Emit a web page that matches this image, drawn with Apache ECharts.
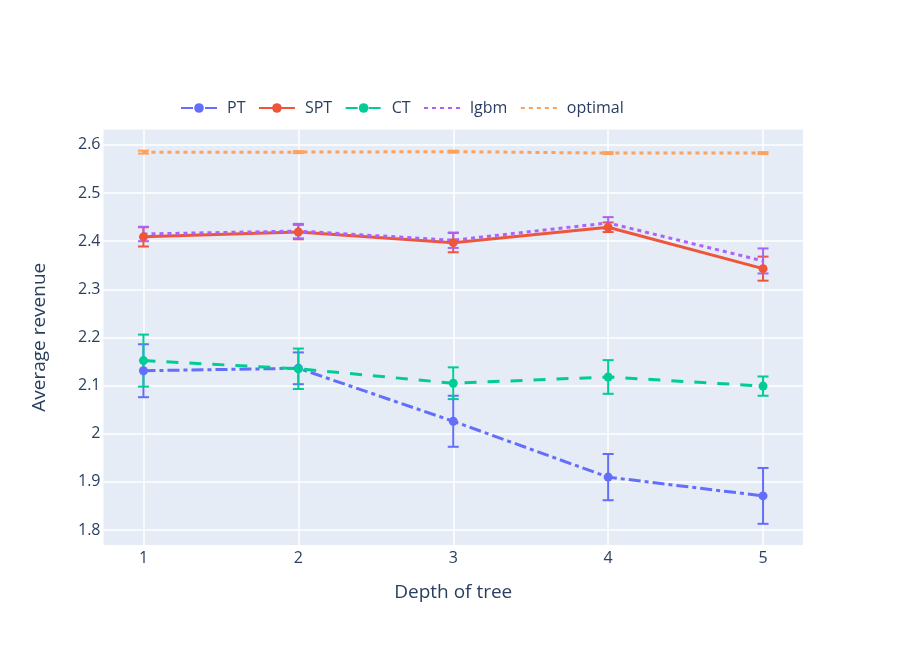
<!DOCTYPE html>
<html>
<head>
<meta charset="utf-8">
<script src="https://cdn.jsdelivr.net/npm/echarts@6/dist/echarts.min.js"></script>
<style>
  html, body { margin: 0; padding: 0; background: #fff; }
  #main { width: 913px; height: 655px; }
</style>
</head>
<body>
<div id="main"></div>
<script>
// depth of tree
var depths = [1, 2, 3, 4, 5];
var xTicks = [1, 2, 3, 4, 5];
var yTicks = [1.8, 1.9, 2.0, 2.1, 2.2, 2.3, 2.4, 2.5, 2.6];

// 平均收益 + 误差
var ptMean = [2.131, 2.136, 2.026, 1.910, 1.871];
var ptErr = [0.055, 0.033, 0.053, 0.048, 0.058];
var sptMean = [2.409, 2.419, 2.397, 2.429, 2.343];
var sptErr = [0.020, 0.015, 0.020, 0.010, 0.025];
var ctMean = [2.152, 2.135, 2.105, 2.118, 2.099];
var ctErr = [0.054, 0.042, 0.033, 0.035, 0.020];
var lgbmMean = [2.415, 2.421, 2.402, 2.438, 2.359];
var lgbmErr = [0.015, 0.015, 0.016, 0.012, 0.026];
var optMean = [2.585, 2.585, 2.586, 2.583, 2.583];
var optErr = [0.003, 0.002, 0.002, 0.002, 0.002];

var font = "'Open Sans', Verdana, sans-serif";
var textColor = "#2a3f5f";

function pairs(means) {
  return depths.map(function(d, i) { return [d, means[i]]; });
}
function errData(means, errs) {
  return depths.map(function(d, i) { return [d, means[i] - errs[i], means[i] + errs[i]]; });
}

// 误差棒
function errRender(params, api) {
  var x = api.value(0);
  var top = api.coord([x, api.value(2)]);
  var bot = api.coord([x, api.value(1)]);
  var w = 5.5;
  var style = { stroke: api.visual("color"), lineWidth: 2 };
  return {
    type: "group",
    children: [
      { type: "line", shape: { x1: top[0], y1: top[1], x2: bot[0], y2: bot[1] }, style: style },
      { type: "line", shape: { x1: top[0] - w, y1: top[1], x2: top[0] + w, y2: top[1] }, style: style },
      { type: "line", shape: { x1: bot[0] - w, y1: bot[1], x2: bot[0] + w, y2: bot[1] }, style: style }
    ]
  };
}

function errSeries(name, color, means, errs) {
  return {
    name: name + "_err",
    type: "custom",
    renderItem: errRender,
    itemStyle: { color: color },
    data: errData(means, errs),
    encode: { x: 0, y: [1, 2] },
    z: 1,
    silent: true
  };
}

function lineSeries(name, color, means, type, marker) {
  return {
    name: name,
    type: "line",
    data: pairs(means),
    symbol: marker ? "circle" : "none",
    symbolSize: 9,
    showSymbol: marker,
    itemStyle: { color: color },
    lineStyle: { color: color, width: 3, type: type },
    z: 3
  };
}

var myChart = echarts.init(document.getElementById("main"));

var option = {
  backgroundColor: "#fff",
  textStyle: { fontFamily: font },
  animation: false,
  legend: {
    data: [
      { name: "PT" },
      { name: "SPT" },
      { name: "CT" },
      { name: "lgbm", itemStyle: { opacity: 0 } },
      { name: "optimal", itemStyle: { opacity: 0 } }
    ],
    left: 175,
    top: 95,
    itemWidth: 36,
    itemHeight: 12,
    itemGap: 12.5,
    textStyle: { color: textColor, fontSize: 16, fontFamily: font, padding: [0, 0, 0, 5] }
  },
  grid: { left: 103.5, right: 110, top: 129.5, bottom: 110 },
  xAxis: {
    type: "value",
    min: 0.742,
    max: 5.258,
    name: "Depth of tree",
    nameLocation: "middle",
    nameGap: 38,
    nameTextStyle: { color: textColor, fontSize: 19, fontFamily: font },
    axisLine: { show: false },
    axisTick: { show: false, customValues: xTicks },
    axisLabel: { customValues: xTicks, color: textColor, fontSize: 16, margin: 5 },
    splitLine: { show: true, lineStyle: { color: "#fff", width: 1.5 } }
  },
  yAxis: {
    type: "value",
    min: 1.769,
    max: 2.632,
    name: "Average revenue",
    nameLocation: "middle",
    nameGap: 54,
    nameTextStyle: { color: textColor, fontSize: 19, fontFamily: font },
    axisLine: { show: false },
    axisTick: { show: false, customValues: yTicks },
    axisLabel: { customValues: yTicks, color: textColor, fontSize: 16, margin: 3 },
    splitLine: { show: true, lineStyle: { color: "#fff", width: 1.5 } }
  },
  graphic: [{
    type: "rect",
    z: -10,
    shape: { x: 103.5, y: 129.5, width: 913 - 103.5 - 110, height: 655 - 129.5 - 110 },
    style: { fill: "#e5ecf6" },
    silent: true
  }],
  series: [
    errSeries("PT", "#636efa", ptMean, ptErr),
    errSeries("SPT", "#ef553b", sptMean, sptErr),
    errSeries("CT", "#00cc96", ctMean, ctErr),
    errSeries("lgbm", "#ab63fa", lgbmMean, lgbmErr),
    errSeries("optimal", "#ffa15a", optMean, optErr),
    lineSeries("PT", "#636efa", ptMean, [12, 4, 4, 4], true),
    lineSeries("SPT", "#ef553b", sptMean, "solid", true),
    lineSeries("CT", "#00cc96", ctMean, [12, 11], true),
    lineSeries("lgbm", "#ab63fa", lgbmMean, [4, 4], false),
    lineSeries("optimal", "#ffa15a", optMean, [4, 4], false)
  ]
};

myChart.setOption(option);
</script>
</body>
</html>
